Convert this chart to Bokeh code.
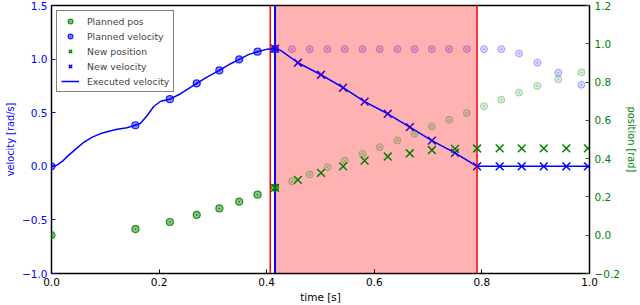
from bokeh.plotting import figure
from bokeh.models import (Range1d, LinearAxis, FixedTicker, CustomJSTickFormatter,
                          Legend, LegendItem)
from bokeh.embed import file_html
from bokeh.resources import INLINE

# ---- data ----
plan_t = [0.0, 0.156, 0.220, 0.270, 0.312, 0.349, 0.383, 0.4155]
plan_vel = [0.0, 0.383, 0.626, 0.773, 0.894, 0.997, 1.069, 1.093]
plan_pos = [0.0, 0.032, 0.069, 0.106, 0.140, 0.175, 0.212, 0.249]

fut_t = [0.447, 0.480, 0.513, 0.545, 0.578, 0.610, 0.643, 0.675, 0.707, 0.739,
         0.772, 0.804, 0.836, 0.869, 0.903, 0.942, 0.985]
fut_vel = [1.093, 1.093, 1.093, 1.093, 1.093, 1.093, 1.093, 1.093, 1.093, 1.093,
           1.093, 1.093, 1.093, 1.053, 0.966, 0.873, 0.761]
fut_pos = [0.282, 0.317, 0.355, 0.390, 0.425, 0.460, 0.495, 0.530, 0.568, 0.603,
           0.638, 0.674, 0.708, 0.745, 0.780, 0.814, 0.851]

new_t = [0.4155, 0.458, 0.501, 0.542, 0.582, 0.625, 0.666, 0.707, 0.750, 0.791,
         0.833, 0.874, 0.915, 0.957, 0.997]
new_vel = [1.097, 0.966, 0.854, 0.733, 0.603, 0.490, 0.365, 0.240, 0.125, 0.0,
           0.0, 0.0, 0.0, 0.0, 0.0]
new_pos = [0.247, 0.289, 0.326, 0.360, 0.390, 0.411, 0.428, 0.445, 0.451, 0.453,
           0.454, 0.454, 0.454, 0.454, 0.454]

exec_t = [0.0, 0.01, 0.02, 0.03, 0.045, 0.06, 0.075, 0.09, 0.105, 0.12, 0.14, 0.156,
          0.165, 0.178, 0.19, 0.203, 0.220, 0.240, 0.270, 0.289, 0.312, 0.333,
          0.349, 0.367, 0.383, 0.401, 0.4155, 0.426,
          0.458, 0.501, 0.542, 0.582, 0.625, 0.666, 0.707, 0.750, 0.791,
          0.833, 0.874, 0.915, 0.957, 0.997]
exec_vel = [0.0, 0.01, 0.045, 0.095, 0.16, 0.224, 0.27, 0.303, 0.325, 0.343, 0.36, 0.383,
            0.40, 0.474, 0.558, 0.607, 0.626, 0.677, 0.773, 0.832, 0.894, 0.957,
            0.997, 1.044, 1.069, 1.093, 1.100, 1.081,
            0.966, 0.854, 0.733, 0.603, 0.490, 0.365, 0.240, 0.125, 0.0,
            0.0, 0.0, 0.0, 0.0, 0.0]

replan_time = 0.4066
new_start = 0.4155
new_end = 0.791

x_ticks = [0.0, 0.2, 0.4, 0.6, 0.8, 1.0]
vel_ticks = [-1.0, -0.5, 0.0, 0.5, 1.0, 1.5]
pos_ticks = [-0.2, 0.0, 0.2, 0.4, 0.6, 0.8, 1.0, 1.2]
vel_lim = (-1.0, 1.5)
pos_lim = (-0.2, 1.2)

BLUE = "#0000ff"
GREEN = "#008000"
FONT = "DejaVu Sans"
FS = "10.5px"
LFS = "9.8px"

p = figure(width=640, height=305, output_backend="svg", toolbar_location=None,
           x_range=Range1d(0, 1), y_range=Range1d(*vel_lim),
           min_border_left=51, min_border_right=51, min_border_top=5,
           min_border_bottom=32)
p.extra_y_ranges = {"pos": Range1d(*pos_lim)}
p.grid.visible = False
p.outline_line_color = "black"
p.outline_line_width = 1.5
p.background_fill_color = "white"

fmt = CustomJSTickFormatter(code="return tick.toFixed(1).replace('-', '\u2212');")


def style(ax, color):
    ax.formatter = fmt
    ax.major_tick_in = 4
    ax.major_tick_out = 0
    ax.minor_tick_line_color = None
    ax.axis_line_color = None
    ax.major_tick_line_color = color
    ax.major_label_text_color = color
    ax.major_label_text_font = FONT
    ax.major_label_text_font_size = FS
    ax.axis_label_text_color = color
    ax.axis_label_text_font = FONT
    ax.axis_label_text_font_size = LFS
    ax.axis_label_text_font_style = "normal"


xa = p.xaxis[0]
xa.ticker = FixedTicker(ticks=x_ticks)
xa.axis_label = "time [s]"
style(xa, "black")
xa.axis_label_text_font_size = FS
xa.major_label_standoff = 4
xa.axis_label_standoff = 2

ya = p.yaxis[0]
ya.ticker = FixedTicker(ticks=vel_ticks)
ya.axis_label = "velocity [rad/s]"
style(ya, BLUE)
ya.major_label_standoff = 4
ya.axis_label_standoff = 3

ra = LinearAxis(y_range_name="pos", ticker=FixedTicker(ticks=pos_ticks),
                axis_label="position [rad]")
style(ra, GREEN)
ra.major_label_standoff = 5
ra.axis_label_standoff = 3
p.add_layout(ra, "right")

# planned velocity
fut_v_r = p.scatter(fut_t, fut_vel, marker="circle_dot", size=7, color=BLUE,
                    fill_alpha=0.15, line_alpha=0.3)
plan_v_r = p.scatter(plan_t, plan_vel, marker="circle_dot", size=7, color=BLUE,
                     fill_alpha=0.45, line_alpha=0.85, line_width=1.2)
new_v_r = p.scatter(new_t, new_vel, marker="x", size=11, color=BLUE, line_width=1.5)

# re-planning span
p.quad(left=[new_start], right=[new_end], bottom=[vel_lim[0]], top=[vel_lim[1]],
       fill_color="red", fill_alpha=0.3, line_color=None)
p.segment(x0=[replan_time, new_end], x1=[replan_time, new_end],
          y0=[vel_lim[0]] * 2, y1=[vel_lim[1]] * 2, line_color="red", line_width=1.5)
p.segment(x0=[new_start], x1=[new_start], y0=[vel_lim[0]], y1=[vel_lim[1]],
          line_color=BLUE, line_width=2)

exec_r = p.line(exec_t, exec_vel, line_color=BLUE, line_width=1.5)

# positions
fut_p_r = p.scatter(fut_t, fut_pos, marker="circle_dot", size=7, color=GREEN,
                    fill_alpha=0.15, line_alpha=0.3, y_range_name="pos")
plan_p_r = p.scatter(plan_t, plan_pos, marker="circle_dot", size=7, color=GREEN,
                     fill_alpha=0.45, line_alpha=0.85, line_width=1.2, y_range_name="pos")
new_p_r = p.scatter(new_t, new_pos, marker="x", size=11, color=GREEN, line_width=1.5,
                    y_range_name="pos")

legend = Legend(items=[
    LegendItem(label="Planned pos", renderers=[plan_p_r]),
    LegendItem(label="Planned velocity", renderers=[plan_v_r]),
    LegendItem(label="New position", renderers=[new_p_r]),
    LegendItem(label="New velocity", renderers=[new_v_r]),
    LegendItem(label="Executed velocity", renderers=[exec_r]),
], location="top_left")
legend.margin = 5
legend.padding = 4
legend.spacing = 3
legend.glyph_height = 12
legend.label_height = 12
legend.glyph_width = 18
legend.label_standoff = 8
legend.label_text_font = FONT
legend.label_text_font_size = "9.3px"
legend.border_line_color = "black"
legend.border_line_width = 1
legend.background_fill_alpha = 1
p.add_layout(legend)

open("out.html", "w").write(file_html(p, INLINE))
